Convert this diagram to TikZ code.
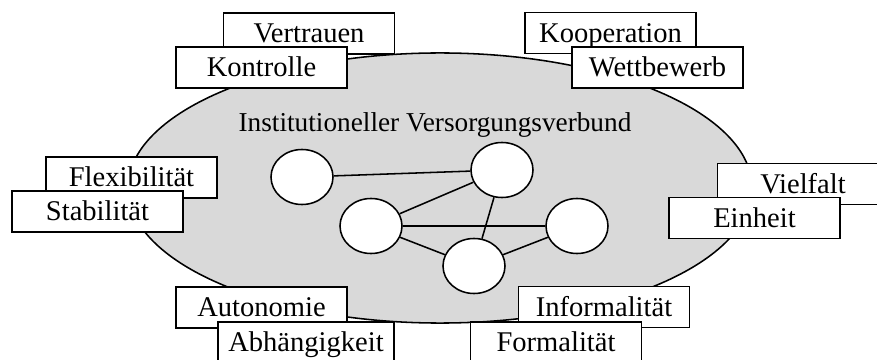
\documentclass[tikz,border=0pt]{standalone}
\usepackage{fontspec}
\setmainfont{Liberation Serif}
\usepackage{xcolor}
\usepackage{tikz}
\usetikzlibrary{shapes.geometric}

\begin{document}
\begin{tikzpicture}[x=0.025cm, y=-0.025cm,
  pole/.style={rectangle, draw, line width=1.1pt, fill=white, minimum width=4.275cm, minimum height=1.025cm, inner xsep=0.26cm, inner ysep=0pt, text height=15.2pt, text depth=1.8pt, font=\fontsize{20.3}{24}\selectfont},
  actor/.style={ellipse, draw, line width=1.1pt, fill=white, inner sep=0pt, minimum width=1.55cm, minimum height=1.375cm},
  link/.style={line width=1.1pt}]
\clip (0,0) rectangle (877,360);
\node[ellipse, draw, line width=1.1pt, fill=black!15, inner sep=0pt, minimum width=15.6cm, minimum height=6.75cm] (verbund) at (440,188) {};
\node[anchor=base, font=\fontsize{19.4}{23}\selectfont] (title) at (435,132) {Institutioneller Versorgungsverbund};
% the network inside
\node[actor] (circleA) at (302,177) {};
\node[actor] (circleB) at (502,170) {};
\node[actor] (circleC) at (371,226) {};
\node[actor] (circleD) at (577,226) {};
\node[actor] (circleE) at (474,266) {};
\draw[link] (circleA) -- (circleB);
\draw[link] (circleB) -- (circleC);
\draw[link] (circleB) -- (circleE);
\draw[link] (circleC) -- (circleD);
\draw[link] (circleC) -- (circleE);
\draw[link] (circleE) -- (circleD);
% pairs of opposite poles round the border
\node[pole] (text0) at (309,33.5) {Vertrauen};
\node[pole] (text1) at (261.5,67.5) {Kontrolle};
\node[pole] (text2) at (610.5,33) {Kooperation};
\node[pole] (text3) at (657.5,67.5) {Wettbewerb};
\node[pole] (text4) at (131.5,177.5) {Flexibilität};
\node[pole] (text5) at (97.5,211.5) {Stabilität};
\node[pole] (text6) at (803,184) {Vielfalt};
\node[pole] (text7) at (754.5,218) {Einheit};
\node[pole] (text8) at (261.5,307.5) {Autonomie};
\node[pole] (text9) at (306,342.5) {Abhängigkeit};
\node[pole] (text10) at (604,307) {Informalität};
\node[pole] (text11) at (556,342.5) {Formalität};
\end{tikzpicture}
\end{document}
